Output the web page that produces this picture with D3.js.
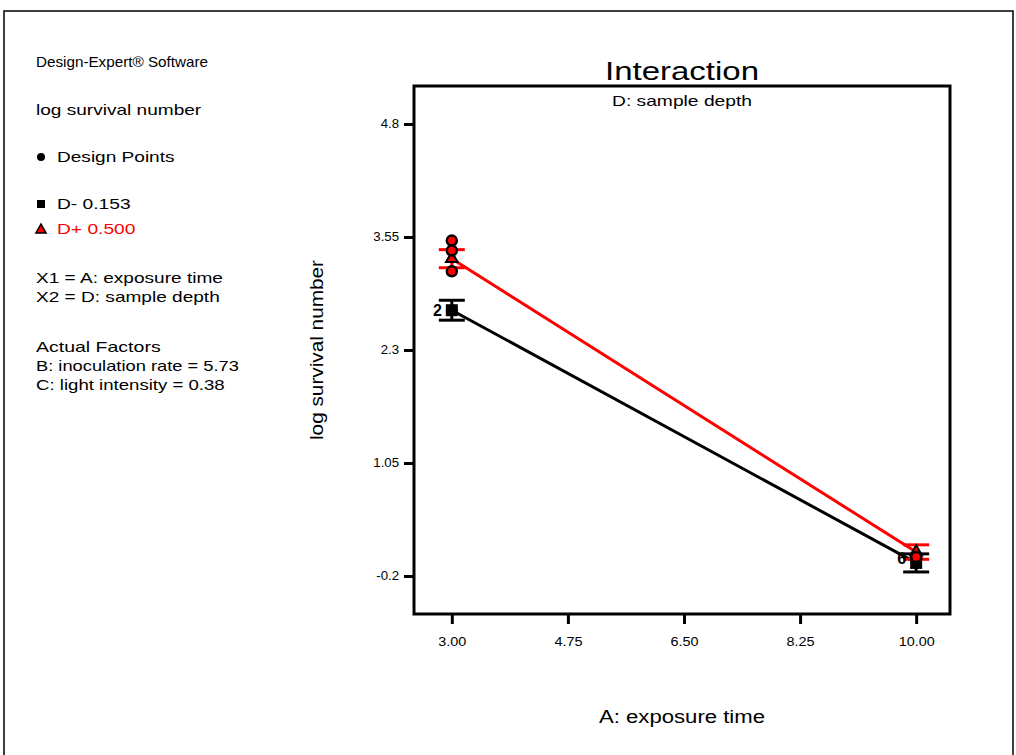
<!DOCTYPE html>
<html>
<head>
<meta charset="utf-8">
<script src="https://cdn.jsdelivr.net/npm/d3@7"></script>
<style>
  html, body { margin: 0; padding: 0; background: #fff; }
  svg text { font-family: Arial, "Liberation Sans", sans-serif; }
</style>
</head>
<body>
<svg id="chart" width="1016" height="755"></svg>
<script>
// ---------- data ----------
const xLevels = [3, 10];
const seriesNames = ["D- 0.153", "D+ 0.500"];
const seriesColors = ["#000000", "#ff0000"];
const dMinusMeans = [2.74, -0.055];
const dPlusMeans = [3.31, 0.065];
const dMinusLsd = [0.11, 0.10];
const dPlusLsd = [0.10, 0.08];
// design points (D+ shown individually, D- shown with counts)
const dpPlusX = [3, 3, 3, 10];
const dpPlusY = [3.51, 3.40, 3.17, 0.01];
const dpMinusX = [3, 10];
const dpMinusY = [2.74, 0.0];
const dpMinusCount = ["2", "6"];
const xTicks = [3, 4.75, 6.5, 8.25, 10];
const xTickLabels = ["3.00", "4.75", "6.50", "8.25", "10.00"];
const yTicks = [-0.2, 1.05, 2.3, 3.55, 4.8];
const yTickLabels = ["-0.2", "1.05", "2.3", "3.55", "4.8"];
const legendLines = [
  "Design-Expert® Software",
  "log survival number",
  "X1 = A: exposure time",
  "X2 = D: sample depth",
  "Actual Factors",
  "B: inoculation rate = 5.73",
  "C: light intensity = 0.38"
];

// ---------- helpers ----------
// horizontally widen text (the reference glyphs are wider than Arial)
function stretch(sel, k) {
  sel.each(function() {
    const len = this.getComputedTextLength();
    d3.select(this).attr("textLength", len * k).attr("lengthAdjust", "spacingAndGlyphs");
  });
  return sel;
}
function fixLen(sel, w) {
  return sel.attr("textLength", w).attr("lengthAdjust", "spacingAndGlyphs");
}

// ---------- layout ----------
const svg = d3.select("#chart");
const box = {left: 414, right: 950, top: 86, bottom: 614};
const x = d3.scaleLinear().domain([2.43, 10.51]).range([box.left, box.right]);
const y = d3.scaleLinear().domain([-0.62, 5.22]).range([box.bottom, box.top]);

// outer frame
svg.append("rect").attr("x", 4).attr("y", 11).attr("width", 1009).attr("height", 760)
  .attr("fill", "none").attr("stroke", "#000").attr("stroke-width", 1.5);

// left legend / info text
const info = svg.append("g").attr("font-size", 15).attr("fill", "#000");
fixLen(info.append("text").attr("x", 36).attr("y", 67).text(legendLines[0]), 172);
stretch(info.append("text").attr("x", 36).attr("y", 115).text(legendLines[1]), 1.27);
info.append("circle").attr("cx", 41).attr("cy", 157).attr("r", 4).attr("fill", "#000");
stretch(info.append("text").attr("x", 57).attr("y", 162).text("Design Points"), 1.27);
info.append("rect").attr("x", 37).attr("y", 200).attr("width", 8).attr("height", 8).attr("fill", "#000");
stretch(info.append("text").attr("x", 57).attr("y", 209).text(seriesNames[0]), 1.28);
info.append("path").attr("d", d3.symbol().type(d3.symbolTriangle).size(45)).attr("transform", "translate(41,230)")
  .attr("fill", "#ff0000").attr("stroke", "#000").attr("stroke-width", 1.5);
stretch(info.append("text").attr("x", 57).attr("y", 234).attr("fill", "#ff0000").text(seriesNames[1]), 1.28);
stretch(info.append("text").attr("x", 36).attr("y", 283).text(legendLines[2]), 1.27);
stretch(info.append("text").attr("x", 36).attr("y", 302).text(legendLines[3]), 1.27);
stretch(info.append("text").attr("x", 36).attr("y", 352).text(legendLines[4]), 1.3);
stretch(info.append("text").attr("x", 36).attr("y", 371).text(legendLines[5]), 1.22);
stretch(info.append("text").attr("x", 36).attr("y", 390).text(legendLines[6]), 1.24);

// title
fixLen(svg.append("text").attr("x", (box.left + box.right) / 2).attr("y", 80).attr("text-anchor", "middle")
  .attr("font-size", 26).text("Interaction"), 154);
fixLen(svg.append("text").attr("x", (box.left + box.right) / 2).attr("y", 106).attr("text-anchor", "middle")
  .attr("font-size", 15).text("D: sample depth"), 140);

// axes
const xAxis = d3.axisBottom(x).tickValues(xTicks).tickSize(10).tickPadding(13)
  .tickFormat((d, i) => xTickLabels[i]);
const yAxis = d3.axisLeft(y).tickValues(yTicks).tickSize(10).tickPadding(5)
  .tickFormat((d, i) => yTickLabels[i]);
const gx = svg.append("g").attr("transform", `translate(0,${box.bottom})`).call(xAxis);
const gy = svg.append("g").attr("transform", `translate(${box.left},0)`).call(yAxis);
[gx, gy].forEach(g => {
  g.select(".domain").remove();
  g.selectAll(".tick line").attr("stroke", "#000").attr("stroke-width", 3);
  g.selectAll(".tick text").attr("font-size", 12).attr("fill", "#000")
    .attr("font-family", "Arial, 'Liberation Sans', sans-serif");
});
stretch(gx.selectAll(".tick text"), 1.2);
stretch(gy.selectAll(".tick text"), 1.1);

// plot frame
svg.append("rect").attr("x", box.left).attr("y", box.top)
  .attr("width", box.right - box.left).attr("height", box.bottom - box.top)
  .attr("fill", "none").attr("stroke", "#000").attr("stroke-width", 3);

// axis titles
fixLen(svg.append("text").attr("transform", `translate(323,${(box.top + box.bottom) / 2}) rotate(-90)`)
  .attr("text-anchor", "middle").attr("font-size", 18).text("log survival number"), 180);
fixLen(svg.append("text").attr("x", (box.left + box.right) / 2).attr("y", 723).attr("text-anchor", "middle")
  .attr("font-size", 18).text("A: exposure time"), 166);

// series
const series = [
  {means: dMinusMeans, lsd: dMinusLsd, color: seriesColors[0], sym: "square"},
  {means: dPlusMeans, lsd: dPlusLsd, color: seriesColors[1], sym: "triangle"}
];
const line = d3.line().x((d, i) => x(xLevels[i])).y(d => y(d));
const plot = svg.append("g");

series.forEach(s => {
  plot.append("path").datum(s.means).attr("d", line)
    .attr("fill", "none").attr("stroke", s.color).attr("stroke-width", 3);
});
// LSD bars
series.forEach(s => {
  s.means.forEach((m, i) => {
    const cx = x(xLevels[i]);
    const g = plot.append("g").attr("stroke", s.color).attr("stroke-width", 3);
    g.append("line").attr("x1", cx).attr("x2", cx).attr("y1", y(m - s.lsd[i])).attr("y2", y(m + s.lsd[i]));
    [m - s.lsd[i], m + s.lsd[i]].forEach(v => {
      g.append("line").attr("x1", cx - 13).attr("x2", cx + 13).attr("y1", y(v)).attr("y2", y(v));
    });
  });
});
// prediction markers
series.forEach(s => {
  s.means.forEach((m, i) => {
    const cx = x(xLevels[i]), cy = y(m);
    if (s.sym === "square") {
      plot.append("rect").attr("x", cx - 6).attr("y", cy - 6).attr("width", 12).attr("height", 12).attr("fill", "#000");
    } else {
      plot.append("path").attr("d", d3.symbol().type(d3.symbolTriangle).size(60))
        .attr("transform", `translate(${cx},${cy})`).attr("fill", "#ff0000")
        .attr("stroke", "#000").attr("stroke-width", 2);
    }
  });
});
// design points
dpMinusX.forEach((xv, i) => {
  plot.append("circle").attr("cx", x(xv)).attr("cy", y(dpMinusY[i])).attr("r", 5)
    .attr("fill", "#000").attr("stroke", "#000").attr("stroke-width", 2);
  plot.append("text").attr("x", x(xv) - 10).attr("y", y(dpMinusY[i]) + 6).attr("text-anchor", "end")
    .attr("font-size", 16).attr("font-weight", "bold").attr("fill", "#000").text(dpMinusCount[i]);
});
dpPlusX.forEach((xv, i) => {
  plot.append("circle").attr("cx", x(xv)).attr("cy", y(dpPlusY[i])).attr("r", 5)
    .attr("fill", "#ff0000").attr("stroke", "#000").attr("stroke-width", 2.5);
});
</script>
</body>
</html>
